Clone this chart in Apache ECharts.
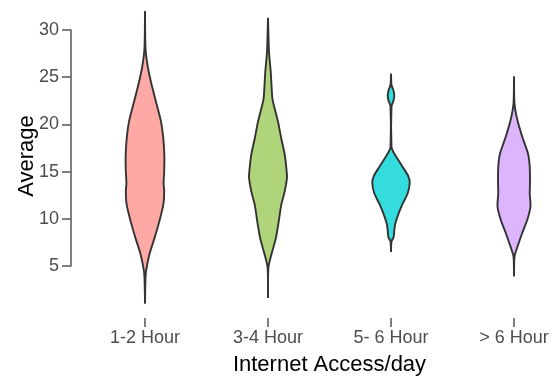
<!DOCTYPE html>
<html>
<head>
<meta charset="utf-8">
<script src="https://cdn.jsdelivr.net/npm/echarts@6/dist/echarts.min.js"></script>
<style>
  html, body { margin: 0; padding: 0; background: #fff; }
  #chart { width: 556px; height: 377px; }
</style>
</head>
<body>
<div id="chart"></div>
<script>
// Categories of daily internet access
const categories = ['1-2 Hour', '3-4 Hour', '5- 6 Hour', '> 6 Hour'];

// Violin outlines: [average value, half width as a fraction of the category band]
const violin12 = [
  [32.0, 0], [28.1, 0.004], [26.0, 0.024], [24.2, 0.054], [22.1, 0.095],
  [20.3, 0.130], [18.5, 0.149], [16.8, 0.157], [15.0, 0.156], [13.8, 0.151],
  [12.9, 0.156], [11.5, 0.149], [9.7, 0.116], [7.9, 0.076], [6.2, 0.035],
  [4.4, 0.008], [3.3, 0.003], [1.0, 0]
];
const violin34 = [
  [31.3, 0], [27.7, 0.008], [25.6, 0.022], [22.8, 0.035], [22.1, 0.046],
  [20.3, 0.081], [18.5, 0.108], [16.8, 0.136], [15.0, 0.152], [14.3, 0.154],
  [12.9, 0.136], [11.5, 0.108], [9.7, 0.087], [7.9, 0.063], [6.2, 0.027],
  [4.8, 0.003], [1.6, 0]
];
const violin56 = [
  [25.4, 0], [24.2, 0.004], [23.6, 0.020], [23.1, 0.027], [22.5, 0.020],
  [21.9, 0.004], [17.6, 0.004], [17.1, 0.018], [16.6, 0.041], [15.5, 0.095],
  [14.5, 0.141], [13.8, 0.152], [12.7, 0.136], [11.6, 0.095], [10.6, 0.063],
  [9.5, 0.035], [8.8, 0.027], [8.1, 0.022], [7.6, 0.004], [6.5, 0]
];
const violin6plus = [
  [25.1, 0], [22.2, 0.004], [20.5, 0.027], [18.7, 0.067], [16.9, 0.114],
  [15.5, 0.128], [13.8, 0.130], [12.7, 0.128], [11.3, 0.134], [9.9, 0.108],
  [8.5, 0.067], [7.0, 0.027], [6.0, 0.004], [3.9, 0]
];

const profiles = [violin12, violin34, violin56, violin6plus];
const fills = ['#FFA9A6', '#B0D479', '#35DCDE', '#DDB5FD'];

const chart = echarts.init(document.getElementById('chart'), null, { renderer: 'canvas' });

// Mirror each half-width profile around its category centre to build a closed violin
function renderViolin(params, api) {
  const idx = api.value(0);
  const prof = profiles[idx];
  const band = api.size([1, 0])[0];
  const left = [];
  const right = [];
  for (let i = 0; i < prof.length; i++) {
    const c = api.coord([idx, prof[i][0]]);
    const w = prof[i][1] * band;
    left.push([c[0] - w, c[1]]);
    right.push([c[0] + w, c[1]]);
  }
  const pts = left.concat(right.reverse());
  return {
    type: 'polygon',
    shape: { points: pts, smooth: 0.25 },
    style: { fill: fills[idx], stroke: '#333333', lineWidth: 1.9 }
  };
}

chart.setOption({
  animation: false,
  grid: { left: 83.5, width: 492, top: 30, height: 236, containLabel: false, outerBoundsMode: 'none' },
  xAxis: {
    type: 'category',
    data: categories,
    boundaryGap: true,
    offset: 52,
    axisLine: { show: false },
    axisTick: { show: true, alignWithLabel: true, length: 9, lineStyle: { color: '#555', width: 1.5 } },
    axisLabel: { color: '#4d4d4d', fontSize: 18, fontFamily: 'Liberation Sans', margin: 11 },
    name: 'Internet Access/day',
    nameLocation: 'middle',
    nameGap: 36,
    nameMoveOverlap: false,
    nameTextStyle: { color: '#000', fontSize: 22, fontFamily: 'Liberation Sans' },
    splitLine: { show: false }
  },
  yAxis: {
    type: 'value',
    min: 5,
    max: 30,
    interval: 5,
    offset: 12.5,
    axisLine: { show: true, lineStyle: { color: '#555', width: 1.5 } },
    axisTick: { show: true, length: 9, lineStyle: { color: '#555', width: 1.5 } },
    axisLabel: { color: '#4d4d4d', fontSize: 18, fontFamily: 'Liberation Sans', margin: 12 },
    splitLine: { show: false },
    name: 'Average',
    nameLocation: 'middle',
    nameGap: 33,
    nameMoveOverlap: false,
    nameTextStyle: { color: '#000', fontSize: 22, fontFamily: 'Liberation Sans', padding: [0, 16, 0, 0] }
  },
  series: [{
    type: 'custom',
    clip: false,
    renderItem: renderViolin,
    data: categories.map((c, i) => [i])
  }]
});
</script>
</body>
</html>
